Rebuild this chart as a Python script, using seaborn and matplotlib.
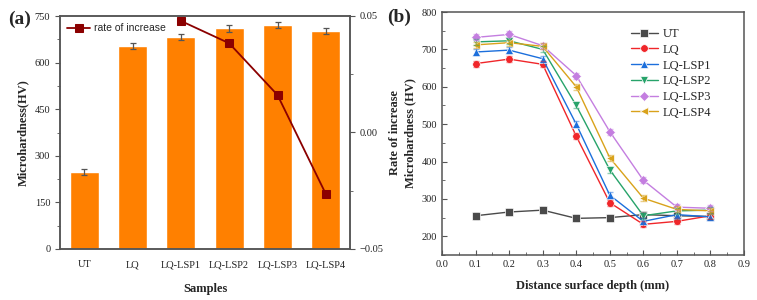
import numpy as np
import pandas as pd
import seaborn as sns
import matplotlib.pyplot as plt
from matplotlib.ticker import MultipleLocator

# (a) bar data
samples = ['UT', 'LQ', 'LQ-LSP1', 'LQ-LSP2', 'LQ-LSP3', 'LQ-LSP4']
hardness = [248, 653, 683, 710, 722, 702]
hardness_err = [10, 10, 10, 10, 10, 10]
rate_samples = ['LQ-LSP1', 'LQ-LSP2', 'LQ-LSP3', 'LQ-LSP4']
rate = [0.0479, 0.0383, 0.0161, -0.0264]

# (b) depth profiles
depth = [0.1, 0.2, 0.3, 0.4, 0.5, 0.6, 0.7, 0.8]
ut = [255, 265, 270, 248, 250, 258, 255, 253]
lq = [662, 674, 660, 468, 290, 232, 240, 255]
lsp1 = [693, 698, 675, 500, 310, 240, 258, 252]
lsp2 = [720, 723, 700, 550, 378, 255, 268, 270]
lsp3 = [732, 740, 710, 630, 480, 350, 278, 275]
lsp4 = [712, 718, 708, 600, 410, 302, 272, 268]
profile_err = 8

sns.set_style('ticks')
plt.rcParams['font.family'] = ['Liberation Serif', 'DejaVu Serif']
plt.rcParams['axes.edgecolor'] = '#555555'
plt.rcParams['axes.linewidth'] = 1.1

fig = plt.figure(figsize=(7.57, 3.0), dpi=100)
ax1 = fig.add_axes([60/757, 1-249/300, 290/757, 233/300])
ax2 = fig.add_axes([442/757, 1-255/300, 302/757, 243/300])

# ---- panel (a)
bar_df = pd.DataFrame({'Samples': samples, 'HV': hardness})
sns.barplot(data=bar_df, x='Samples', y='HV', color='#ff8000', width=0.6,
            saturation=1, ax=ax1)
ax1.errorbar(range(len(samples)), hardness, yerr=hardness_err, fmt='none',
             ecolor='#555555', elinewidth=0.9, capsize=2.5, capthick=0.9)
ax1.set_xlim(-0.5, 5.5)
ax1.set_ylim(0, 750)
ax1.yaxis.set_major_locator(MultipleLocator(150))
ax1.yaxis.set_minor_locator(MultipleLocator(75))
ax1.tick_params(axis='both', which='both', direction='out', labelsize=7.5, colors='#555555', labelcolor='#222222')
ax1.tick_params(axis='x', length=0, pad=8)
ax1.set_xlabel('Samples', fontsize=9, fontweight='bold', labelpad=10)
ax1.set_ylabel('Microhardness(HV)', fontsize=9, fontweight='bold')

ax1r = ax1.twinx()
rate_x = [samples.index(s) for s in rate_samples]
sns.lineplot(x=rate_x, y=rate, color='#8b0000', marker='s', markersize=5.5,
             markeredgecolor='#8b0000', linewidth=1.3, ax=ax1r, label='rate of increase')
ax1r.set_ylim(-0.05, 0.05)
ax1r.yaxis.set_major_locator(MultipleLocator(0.05))
ax1r.yaxis.set_minor_locator(MultipleLocator(0.025))
ax1r.yaxis.set_major_formatter(plt.FuncFormatter(lambda v, p: f'{v:.2f}'.replace('-', '\u2212')))
ax1r.tick_params(axis='y', which='both', direction='out', labelsize=7.5, colors='#555555', labelcolor='#222222')
ax1r.set_ylabel('Rate of increase', fontsize=9, fontweight='bold')
ax1r.legend(loc='upper left', frameon=False, prop={'family': 'Liberation Sans', 'size': 7.5},
            handlelength=2.2, borderaxespad=0.3, handletextpad=0.4)
for s in ax1r.spines.values():
    s.set_color('#555555')

# ---- panel (b)
names = ['UT', 'LQ', 'LQ-LSP1', 'LQ-LSP2', 'LQ-LSP3', 'LQ-LSP4']
series = [ut, lq, lsp1, lsp2, lsp3, lsp4]
colors = ['#4a4a4a', '#f0262a', '#1c6fdc', '#27a36a', '#c47ee0', '#d9a21b']
markers = ['s', 'o', '^', 'v', 'D', '<']
prof_df = pd.DataFrame({
    'depth': depth * len(names),
    'HV': [v for s in series for v in s],
    'sample': [n for n in names for _ in depth],
})
sns.lineplot(data=prof_df, x='depth', y='HV', hue='sample', style='sample',
             palette=dict(zip(names, colors)), markers=dict(zip(names, markers)),
             dashes=False, markersize=5.5, markeredgewidth=0.5, linewidth=1.0, ax=ax2)
for n, s, c in zip(names, series, colors):
    ax2.errorbar(depth, s, yerr=profile_err, fmt='none', ecolor=c, alpha=0.5,
                 elinewidth=0.8, capsize=2)
ax2.set_xlim(0, 0.9)
ax2.set_ylim(150, 800)
ax2.xaxis.set_major_locator(MultipleLocator(0.1))
ax2.xaxis.set_minor_locator(MultipleLocator(0.05))
ax2.yaxis.set_major_locator(MultipleLocator(100))
ax2.yaxis.set_minor_locator(MultipleLocator(50))
ax2.xaxis.set_major_formatter(plt.FuncFormatter(lambda v, p: f'{v:.1f}'))
ax2.tick_params(axis='both', which='both', direction='in', labelsize=7.5, colors='#555555', labelcolor='#222222')
ax2.set_xlabel('Distance surface depth (mm)', fontsize=9, fontweight='bold', labelpad=8)
ax2.set_ylabel('Microhardness (HV)', fontsize=9, fontweight='bold')
ax2.legend(title=None, loc='upper right', frameon=False, prop={'size': 9},
           bbox_to_anchor=(0.93, 0.98), handlelength=2.2, handletextpad=0.4,
           labelspacing=0.3)

fig.text(8/757, 1-19/300, '(a)', fontsize=14, fontweight='bold', va='center')
fig.text(387/757, 1-17/300, '(b)', fontsize=14, fontweight='bold', va='center')

fig.savefig('out.png', dpi=100)
